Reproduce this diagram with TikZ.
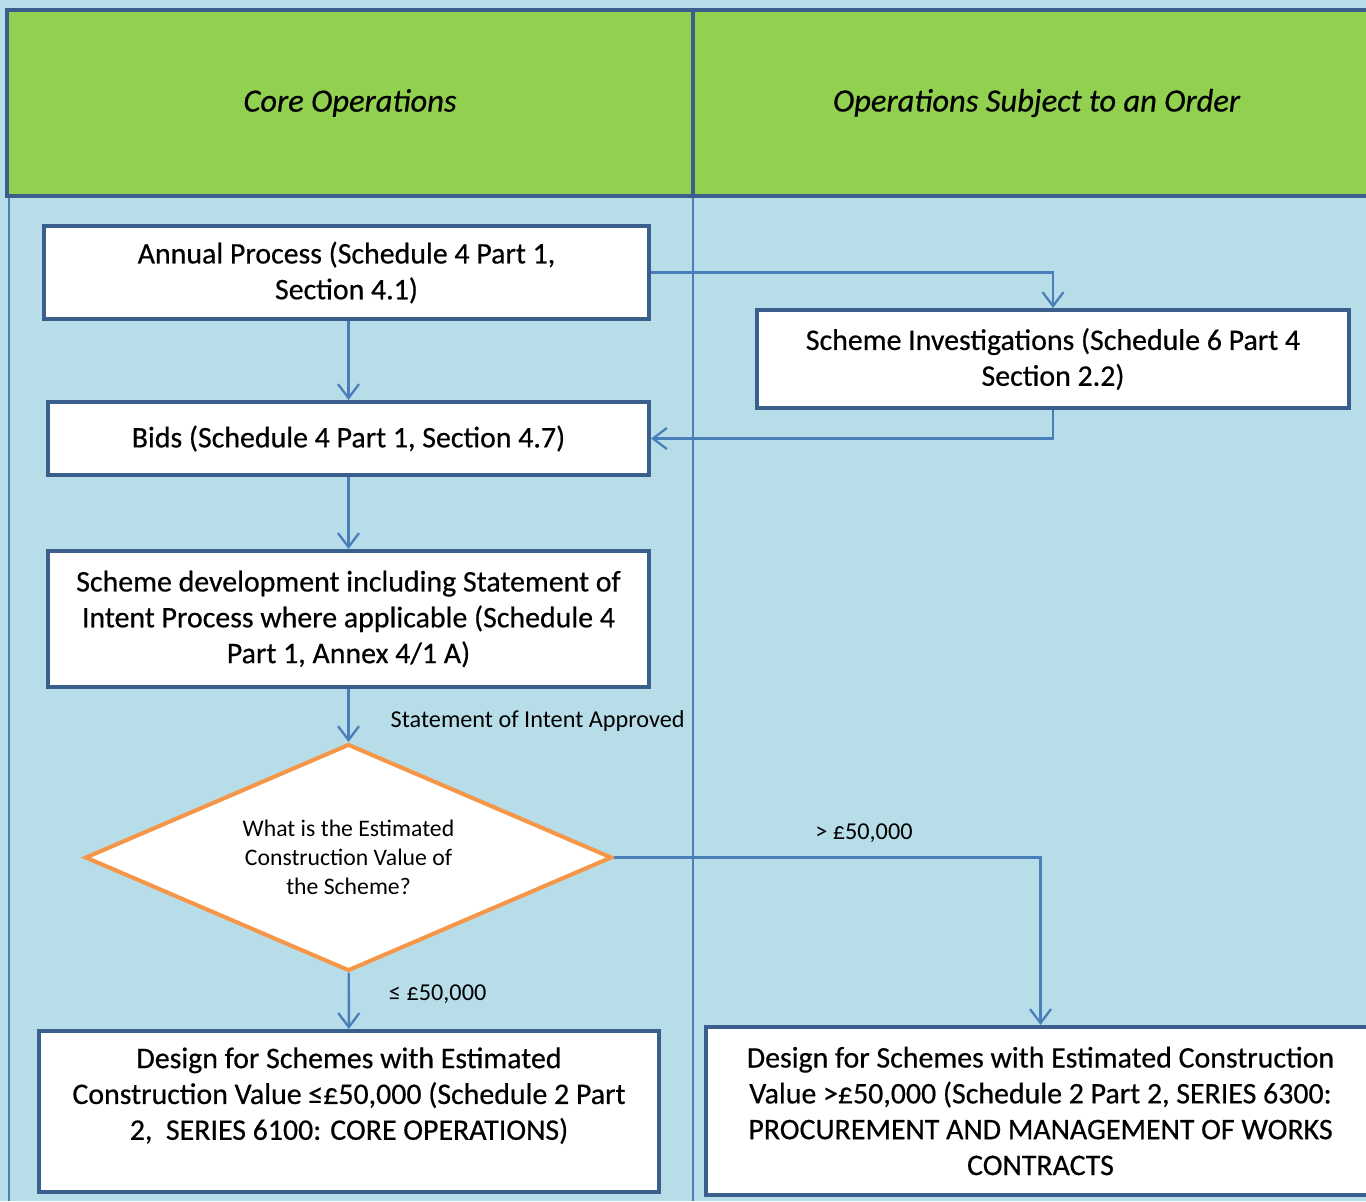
\documentclass[tikz,border=0pt]{standalone}
\usepackage{fontspec}
\setmainfont{Carlito}
\newfontfamily\heavyfont{Carlito}[FakeBold=0.5]
\usepackage{tikz}
\usetikzlibrary{arrows.meta}
\usetikzlibrary{shapes.geometric}

\definecolor{lanebg}{HTML}{B7DDE8}
\definecolor{headgreen}{HTML}{92D050}
\definecolor{darkline}{HTML}{3A5F8D}
\definecolor{flowblue}{HTML}{4A7EBB}
\definecolor{decorange}{HTML}{F79646}

\begin{document}
\begin{tikzpicture}[x=0.02cm,y=-0.02cm,
    lanehead/.style={draw=darkline,line width=2.3pt,fill=headgreen,inner sep=0pt,
        font=\heavyfont\fontsize{18.5}{22}\selectfont\itshape},
    box/.style={draw=darkline,line width=2.3pt,fill=white,align=center,inner sep=0pt,
        font=\heavyfont\fontsize{17}{20.4}\selectfont},
    decision/.style={diamond,draw=decorange,line width=2.3pt,fill=white,align=center,
        inner sep=0pt,aspect=2.32,font=\fontsize{13.5}{16.5}\selectfont},
    flow/.style={draw=flowblue,line width=1.4pt,-{Straight Barb[length=0.28cm,width=0.42cm,line width=1.3pt]}},
    laneline/.style={draw=flowblue,line width=1.3pt},
    lbl/.style={inner sep=0pt,font=\fontsize{13.8}{16}\selectfont}]
    \clip (0,0) rectangle (1366,1201);
    \fill[lanebg] (0,0) rectangle (1366,1201);

    % swimlanes
    \draw[laneline] (9,196) -- (9,1201);
    \draw[laneline] (693,196) -- (693,1201);
    \node[lanehead,minimum width=13.72cm,minimum height=3.72cm] (corehead) at (350,103) {Core Operations};
    \node[lanehead,minimum width=13.74cm,minimum height=3.72cm] (orderhead) at (1036.5,103) {Operations Subject to an Order};

    % process boxes
    \node[box,minimum width=12.1cm,minimum height=1.86cm] (annual) at (346.5,272.5)
        {Annual Process (Schedule 4 Part 1,\\ Section 4.1)};
    \node[box,minimum width=11.84cm,minimum height=1.96cm] (schinv) at (1053,359)
        {Scheme Investigations (Schedule 6 Part 4\\ Section 2.2)};
    \node[box,minimum width=12.02cm,minimum height=1.46cm] (bids) at (348.5,438.5)
        {Bids (Schedule 4 Part 1, Section 4.7)};
    \node[box,minimum width=12.02cm,minimum height=2.72cm] (schdev) at (348.5,619)
        {Scheme development including Statement of\\ Intent Process where applicable (Schedule 4\\ Part 1, Annex 4/1 A)};
    \node[decision,minimum width=10.54cm,minimum height=4.54cm] (decide) at (348.5,857.5)
        {What is the Estimated\\ Construction Value of\\ the Scheme?};
    \node[box,minimum width=12.4cm,minimum height=3.22cm] (small) at (349,1111.5)
        {Design for Schemes with Estimated\\ Construction Value ≤£50,000 (Schedule 2 Part\\ 2,\ \ SERIES 6100: CORE OPERATIONS)\\ \mbox{}};
    \node[box,minimum width=13.38cm,minimum height=3.36cm] (large) at (1040.5,1111)
        {Design for Schemes with Estimated Construction\\ Value >£50,000 (Schedule 2 Part 2, SERIES 6300:\\ PROCUREMENT AND MANAGEMENT OF WORKS\\ CONTRACTS};

    % connectors
    \draw[flow] (bids.north |- annual.south) -- (bids.north);
    \draw[flow] (annual.east) -| (schinv.north);
    \draw[flow] (schinv.south) |- (bids.east);
    \draw[flow] (bids) -- (schdev);
    \draw[flow] (schdev) -- node[lbl,pos=0.6,right=0.82cm] {Statement of Intent Approved} (decide);
    \draw[flow] (decide) -- node[lbl,pos=0.38,right=0.78cm] {≤ £50,000} (small);
    \draw[flow] (decide.east) -| node[lbl,pos=0.293,above=0.28cm] {> £50,000} (large.north);
\end{tikzpicture}
\end{document}
